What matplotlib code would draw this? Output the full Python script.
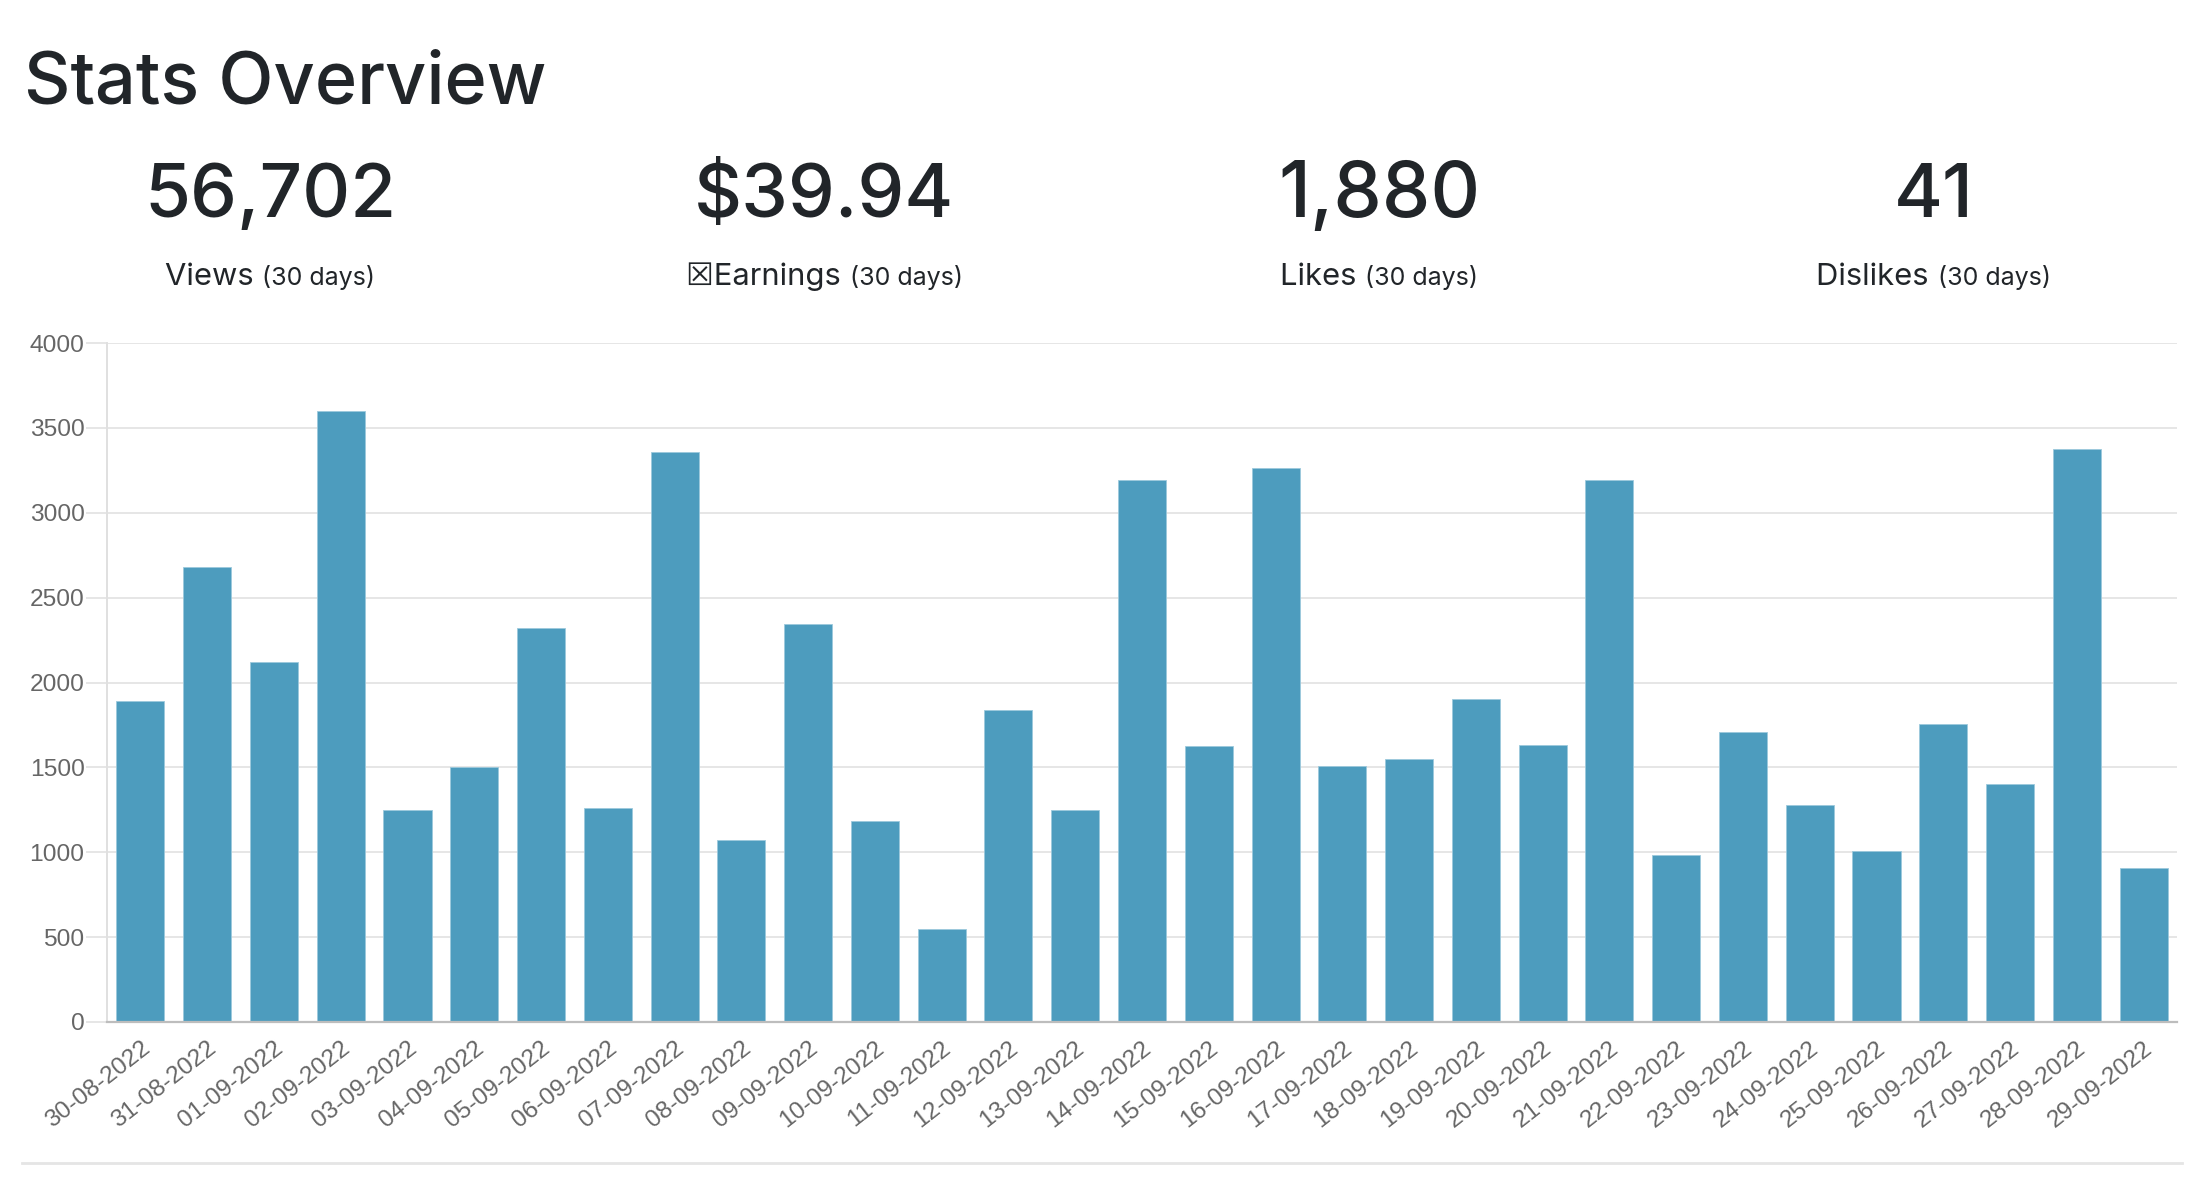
import matplotlib
matplotlib.use("Agg")
import numpy as np
from matplotlib import pyplot as plt

# daily views, 30-08-2022 .. 29-09-2022
dates = ["30-08-2022", "31-08-2022", "01-09-2022", "02-09-2022", "03-09-2022",
         "04-09-2022", "05-09-2022", "06-09-2022", "07-09-2022", "08-09-2022",
         "09-09-2022", "10-09-2022", "11-09-2022", "12-09-2022", "13-09-2022",
         "14-09-2022", "15-09-2022", "16-09-2022", "17-09-2022", "18-09-2022",
         "19-09-2022", "20-09-2022", "21-09-2022", "22-09-2022", "23-09-2022",
         "24-09-2022", "25-09-2022", "26-09-2022", "27-09-2022", "28-09-2022",
         "29-09-2022"]
views = [1890, 2680, 2120, 3600, 1250, 1500, 2320, 1260, 3355, 1070,
         2345, 1185, 545, 1840, 1250, 3195, 1625, 3265, 1510, 1550,
         1905, 1630, 3195, 985, 1710, 1280, 1010, 1755, 1405, 3375,
         905]
yticks = [0, 500, 1000, 1500, 2000, 2500, 3000, 3500, 4000]

# summary cards
card_values = ["56,702", "$39.94", "1,880", "41"]
card_names = ["Views", "\u2612Earnings", "Likes", "Dislikes"]
card_period = "(30 days)"
title = "Stats Overview"

W, H = 2194, 1182
DARK = "#212529"
FONT = ["Liberation Sans", "DejaVu Sans"]
HEAD = ["Inter", "DejaVu Sans"]
plt.rcParams['font.family'] = FONT


def fx(px):
    return px / W


def fy(py):
    return 1 - py / H


def pt(px):
    return px * 0.72


fig = plt.figure(figsize=(W / 100, H / 100), dpi=100)
fig.patch.set_facecolor("white")
renderer = fig.canvas.get_renderer()


def fit_text(xpx, ypx, s, size_px, width_px, ha, **kw):
    # scale the font so the string spans the width measured on the reference
    t = fig.text(fx(xpx), fy(ypx), s, fontsize=pt(size_px), ha=ha, va="baseline", **kw)
    w = t.get_window_extent(renderer).width
    t.set_fontsize(pt(size_px) * width_px / w)
    return t


# heading
fit_text(24, 104, title, 80, 522, "left", color=DARK, family=HEAD, fontweight=500)

# cards: big number + label
centers = [270, 824.5, 1379, 1933.5]
num_widths = [252, 260, 202, 80]
for cx, val, nw, name in zip(centers, card_values, num_widths, card_names):
    fit_text(cx, 217, val, 80, nw, "center", color=DARK, family=HEAD, fontweight=500)
    t1 = fig.text(0, fy(285), name + " ", fontsize=pt(31), color=DARK, ha="left",
                  va="baseline", family=HEAD)
    t2 = fig.text(0, fy(285), card_period, fontsize=pt(25), color=DARK, ha="left",
                  va="baseline", family=HEAD)
    w1 = t1.get_window_extent(renderer).width
    w2 = t2.get_window_extent(renderer).width
    x0 = cx - (w1 + w2) / 2
    t1.set_x(fx(x0))
    t2.set_x(fx(x0 + w1))

# bar chart
ax = fig.add_axes([fx(107), fy(1022), fx(2177) - fx(107), fy(343) - fy(1022)])
x = np.arange(len(dates))
ax.bar(x, views, width=0.72, color="#4d9cbe", edgecolor="#9cc9dc", linewidth=0.6, zorder=3)
ax.set_xlim(-0.5, len(dates) - 0.5)
ax.set_ylim(0, 4000)
ax.set_yticks(yticks)
ax.set_yticklabels([str(v) for v in yticks])
ax.set_xticks(x)
ax.set_xticklabels(dates, rotation=38, ha="right", rotation_mode="anchor")

ax.grid(axis="y", color="#e6e6e6", linewidth=1.4, zorder=0)
ax.grid(axis="x", visible=False)
for s in ["top", "right"]:
    ax.spines[s].set_visible(False)
ax.spines["left"].set_color("#e0e0e0")
ax.spines["left"].set_linewidth(1.4)
ax.spines["bottom"].set_color("#bdbdbd")
ax.spines["bottom"].set_linewidth(1.6)
ax.spines["bottom"].set_zorder(4)

ax.tick_params(axis="y", length=pt(21), width=1.4, color="#e6e6e6", pad=1,
               labelsize=pt(24.5), labelcolor="#666666")
ax.tick_params(axis="x", length=0, pad=pt(15), labelsize=pt(24.5), labelcolor="#666666")

# thin separator under chart
fig.add_artist(plt.Line2D([fx(22), fx(2182)], [fy(1163), fy(1163)],
                          color="#e5e5e5", linewidth=2))

fig.savefig("out.png", dpi=100, facecolor="white")
